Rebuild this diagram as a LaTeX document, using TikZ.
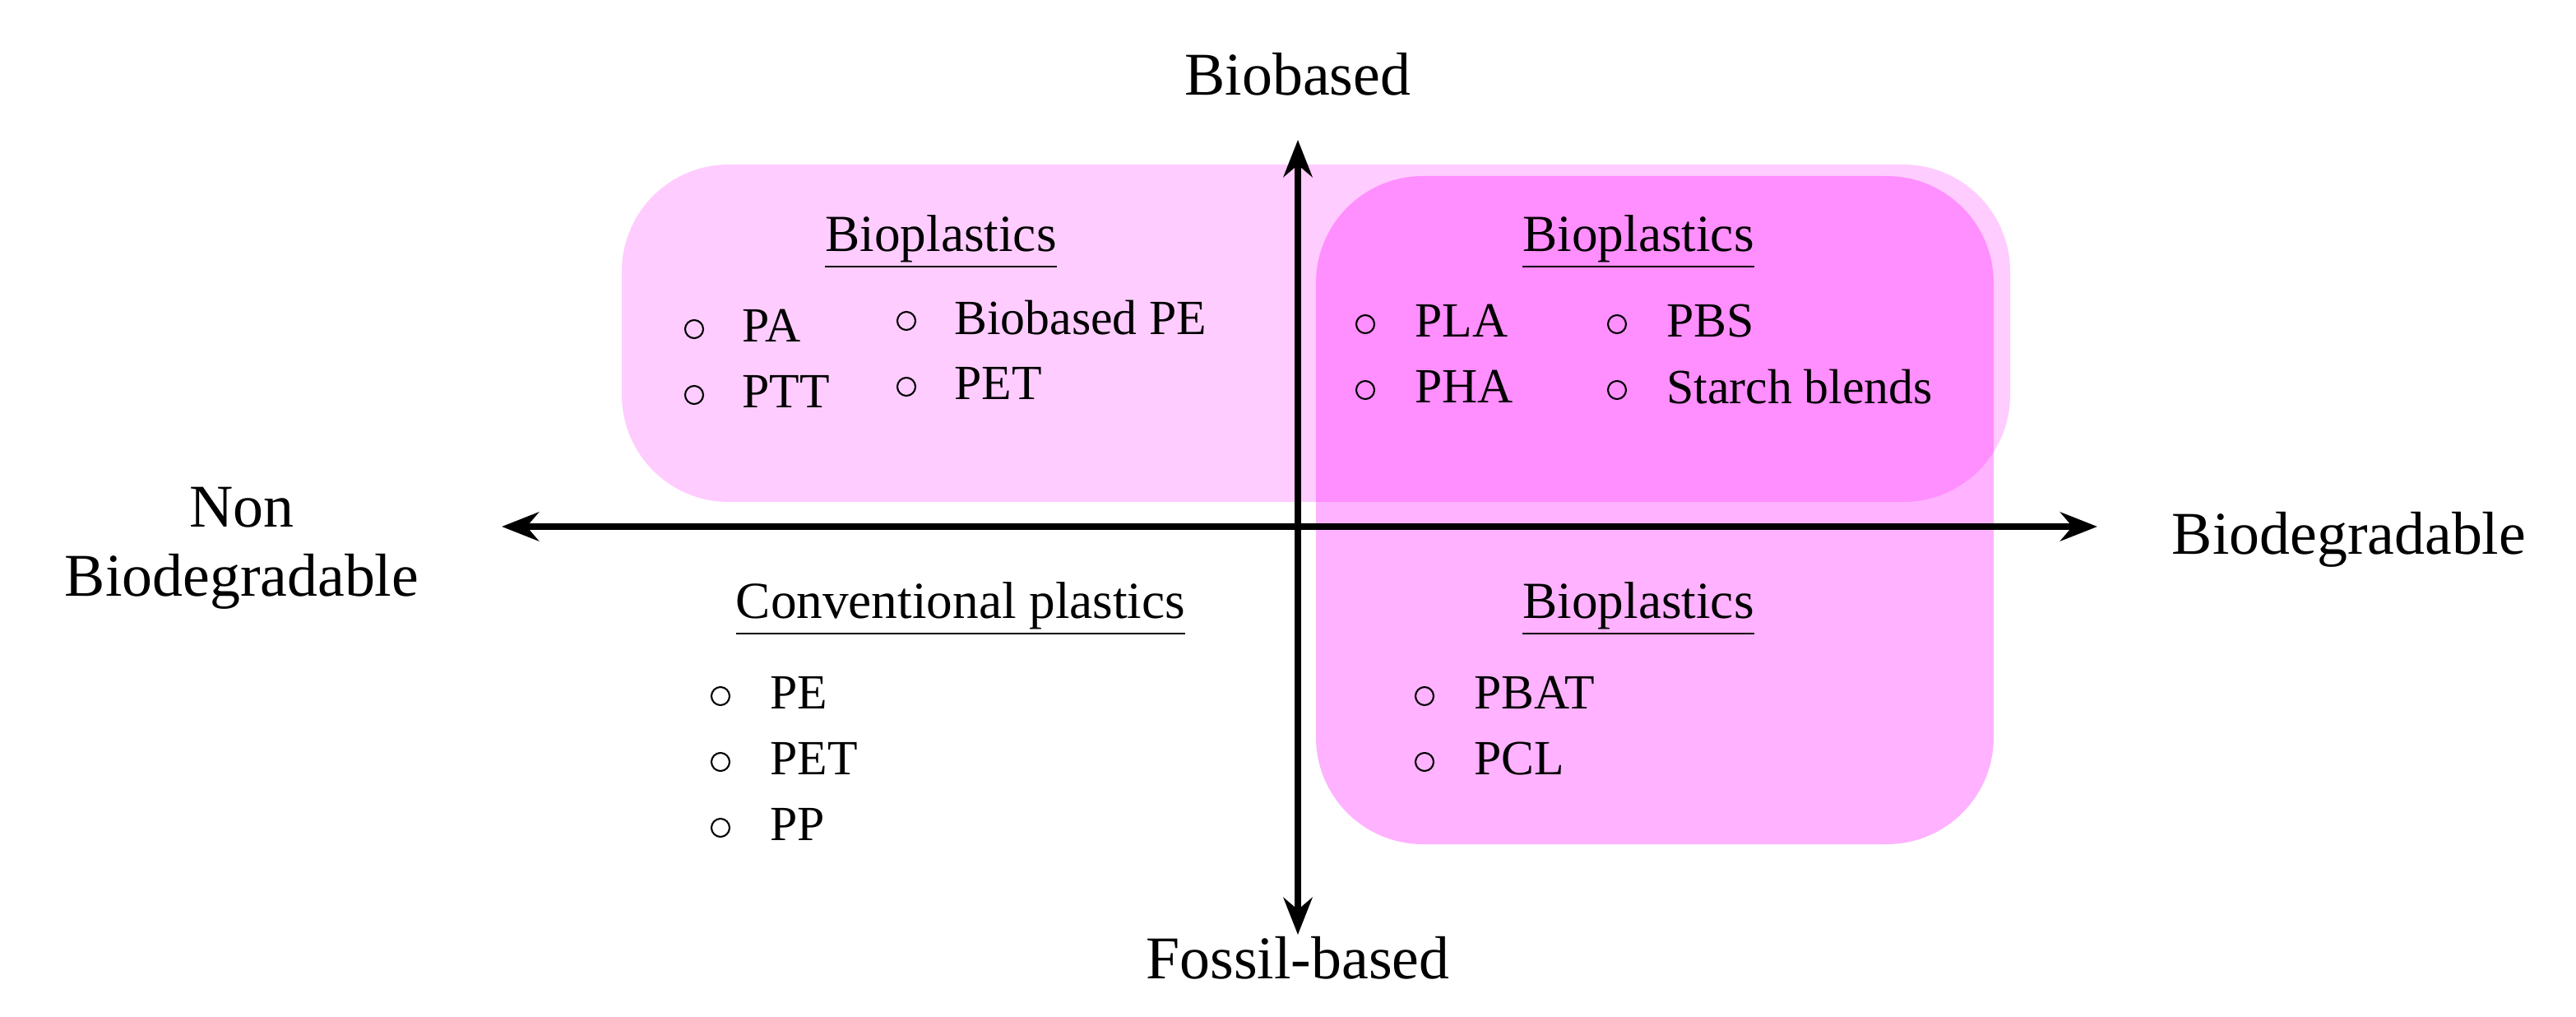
\documentclass[tikz,border=0pt]{standalone}
\usepackage{fontspec}
\setmainfont{Liberation Serif}
\usetikzlibrary{arrows.meta}
\definecolor{mag}{RGB}{255,0,255}
\begin{document}
\begin{tikzpicture}[x=0.02cm,y=-0.02cm,
  big/.style={font=\fontsize{21}{24}\selectfont},
  hd/.style={font=\fontsize{18}{21}\selectfont},
  it/.style={font=\fontsize{17}{20}\selectfont,anchor=west},
  bul/.style={circle,draw,line width=0.6pt,inner sep=0pt,minimum size=0.22cm},
  ax/.style={line width=2.2pt,-{Stealth[length=0.45cm,width=0.35cm]}}]
\useasboundingbox (0,0) rectangle (1566,618);
\fill[mag,opacity=0.2,rounded corners=1.3cm] (378,100) rectangle (1222,305);
\fill[mag,opacity=0.3,rounded corners=1.3cm] (800,107) rectangle (1212,513);
\coordinate (c) at (789,320);
\coordinate (l) at (305,320);
\coordinate (r) at (1275,320);
\coordinate (t) at (789,85);
\coordinate (b) at (789,568);
\draw[ax] (c) -- (l);
\draw[ax] (c) -- (r);
\draw[ax] (c) -- (t);
\draw[ax] (c) -- (b);
\node[big] (bb) at (789,45) {Biobased};
\node[big] (fb) at (789,582) {Fossil-based};
\node[big,align=center] (nb) at (147,333) {Non\\Biodegradable};
\node[big] (bd) at (1428,328) {Biodegradable};
% top left
\node[hd] (h1) at (572,147) {\underline{Bioplastics}};
\node[bul] (b1) at (422,200) {}; \node[it] (t1) at (445,198) {PA};
\node[bul] (b2) at (422,240) {}; \node[it] (t2) at (445,238) {PTT};
\node[bul] (b3) at (551,195) {}; \node[it] (t3) at (574,193) {Biobased PE};
\node[bul] (b4) at (551,235) {}; \node[it] (t4) at (574,233) {PET};
% top right
\node[hd] (h2) at (996,147) {\underline{Bioplastics}};
\node[bul] (b5) at (830,197) {}; \node[it] (t5) at (854,195) {PLA};
\node[bul] (b6) at (830,237) {}; \node[it] (t6) at (854,235) {PHA};
\node[bul] (b7) at (983,197) {}; \node[it] (t7) at (1007,195) {PBS};
\node[bul] (b8) at (983,237) {}; \node[it] (t8) at (1007,235) {Starch blends};
% bottom right
\node[hd] (h3) at (996,370) {\underline{Bioplastics}};
\node[bul] (b9) at (866,423) {}; \node[it] (t9) at (890,421) {PBAT};
\node[bul] (b10) at (866,463) {}; \node[it] (t10) at (890,461) {PCL};
% bottom left
\node[hd] (h4) at (584,370) {\underline{Conventional plastics}};
\node[bul] (b11) at (438,423) {}; \node[it] (t11) at (462,421) {PE};
\node[bul] (b12) at (438,463) {}; \node[it] (t12) at (462,461) {PET};
\node[bul] (b13) at (438,503) {}; \node[it] (t13) at (462,501) {PP};
\end{tikzpicture}
\end{document}
